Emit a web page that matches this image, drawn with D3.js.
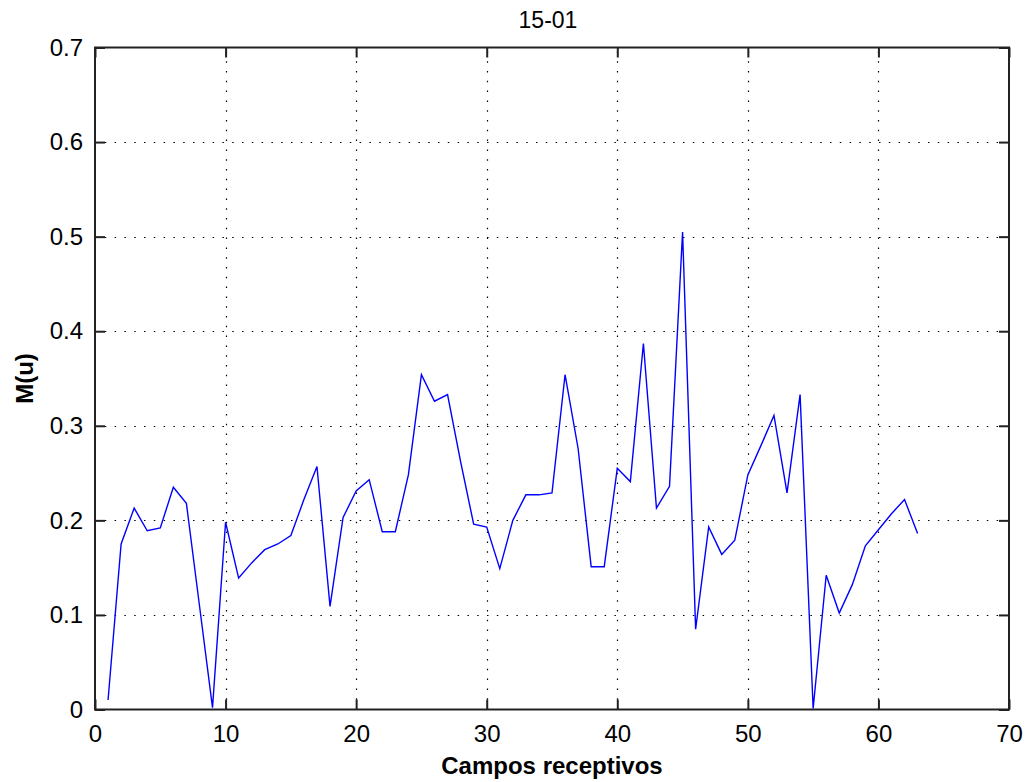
<!DOCTYPE html>
<html>
<head>
<meta charset="utf-8">
<script src="https://cdn.jsdelivr.net/npm/d3@7"></script>
<style>
  html, body { margin: 0; padding: 0; background: #fff; }
  svg { display: block; }
  text { font-family: "Liberation Sans", Arial, Helvetica, sans-serif; fill: #000; }
</style>
</head>
<body>
<svg id="chart" width="1025" height="782"></svg>
<script>
// Receptive field index and M(u) values
const campos = d3.range(1, 64);
const mu = [
  0.010, 0.175, 0.213, 0.189, 0.192, 0.235, 0.218, 0.110, 0.002, 0.198,
  0.139, 0.155, 0.169, 0.175, 0.184, 0.222, 0.257, 0.109, 0.203, 0.231,
  0.243, 0.188, 0.188, 0.248, 0.354, 0.326, 0.333, 0.262, 0.196, 0.193,
  0.149, 0.200, 0.227, 0.227, 0.229, 0.354, 0.276, 0.151, 0.151, 0.255,
  0.241, 0.387, 0.213, 0.236, 0.505, 0.085, 0.193, 0.164, 0.179, 0.248,
  0.279, 0.311, 0.229, 0.333, 0.001, 0.142, 0.102, 0.132, 0.173, 0.190,
  0.207, 0.222, 0.186
];
const xTicks = [0, 10, 20, 30, 40, 50, 60, 70];
const yTicks = [0, 0.1, 0.2, 0.3, 0.4, 0.5, 0.6, 0.7];
const titleText = "15-01";
const xLabel = "Campos receptivos";
const yLabel = "M(u)";

const svg = d3.select("#chart");
const plotL = 95, plotR = 1009, plotT = 47.5, plotB = 709.5;

const x = d3.scaleLinear().domain([0, 70]).range([plotL, plotR]);
const y = d3.scaleLinear().domain([0, 0.7]).range([plotB, plotT]);

// dotted grid
const grid = svg.append("g")
  .attr("stroke", "#000")
  .attr("stroke-width", 1.2)
  .attr("stroke-dasharray", "1.5,8.3");
grid.selectAll("line.gx").data(xTicks.slice(1, -1)).join("line")
  .attr("x1", d => Math.round(x(d)) + 0.5).attr("x2", d => Math.round(x(d)) + 0.5)
  .attr("y1", plotB).attr("y2", plotT);
grid.selectAll("line.gy").data(yTicks.slice(1, -1)).join("line")
  .attr("x1", plotL).attr("x2", plotR)
  .attr("y1", d => Math.round(y(d)) + 0.5).attr("y2", d => Math.round(y(d)) + 0.5);

// data line
const line = d3.line().x((d, i) => x(campos[i])).y(d => y(d));
svg.append("path")
  .datum(mu)
  .attr("fill", "none")
  .attr("stroke", "#0000ff")
  .attr("stroke-width", 1.4)
  .attr("d", line);

// axes with inward ticks on all sides
const tickLen = 10;
const axisStyle = g => {
  g.select(".domain").remove();
  g.selectAll(".tick line").attr("stroke", "#222").attr("stroke-width", 2);
  g.selectAll(".tick text")
    .style("font-family", '"Liberation Sans", Arial, sans-serif')
    .style("font-size", "24px").attr("fill", "#111");
};

svg.append("g")
  .attr("transform", `translate(0,${plotB})`)
  .call(d3.axisBottom(x).tickValues(xTicks).tickSize(-tickLen).tickPadding(15).tickFormat(d3.format("d")))
  .call(axisStyle);
svg.append("g")
  .attr("transform", `translate(0,${plotT})`)
  .call(d3.axisTop(x).tickValues(xTicks).tickSize(-tickLen).tickFormat(""))
  .call(axisStyle);
svg.append("g")
  .attr("transform", `translate(${plotL},0)`)
  .call(d3.axisLeft(y).tickValues(yTicks).tickSize(-tickLen).tickPadding(12)
    .tickFormat(d => d === 0 ? "0" : d3.format(".1f")(d)))
  .call(axisStyle);
svg.append("g")
  .attr("transform", `translate(${plotR},0)`)
  .call(d3.axisRight(y).tickValues(yTicks).tickSize(-tickLen).tickFormat(""))
  .call(axisStyle);

// frame
svg.append("rect")
  .attr("x", plotL).attr("y", plotT)
  .attr("width", plotR - plotL).attr("height", plotB - plotT)
  .attr("fill", "none").attr("stroke", "#222").attr("stroke-width", 2);

// title and axis labels
svg.append("text")
  .attr("x", (plotL + plotR) / 2 - 4).attr("y", 28)
  .attr("text-anchor", "middle")
  .style("font-size", "23px")
  .text(titleText);

svg.append("text")
  .attr("x", (plotL + plotR) / 2).attr("y", 774)
  .attr("text-anchor", "middle")
  .style("font-size", "24px").style("font-weight", "bold")
  .text(xLabel);

svg.append("text")
  .attr("transform", `translate(33,${(plotT + plotB) / 2}) rotate(-90)`)
  .attr("text-anchor", "middle")
  .style("font-size", "24px").style("font-weight", "bold")
  .text(yLabel);
</script>
</body>
</html>
